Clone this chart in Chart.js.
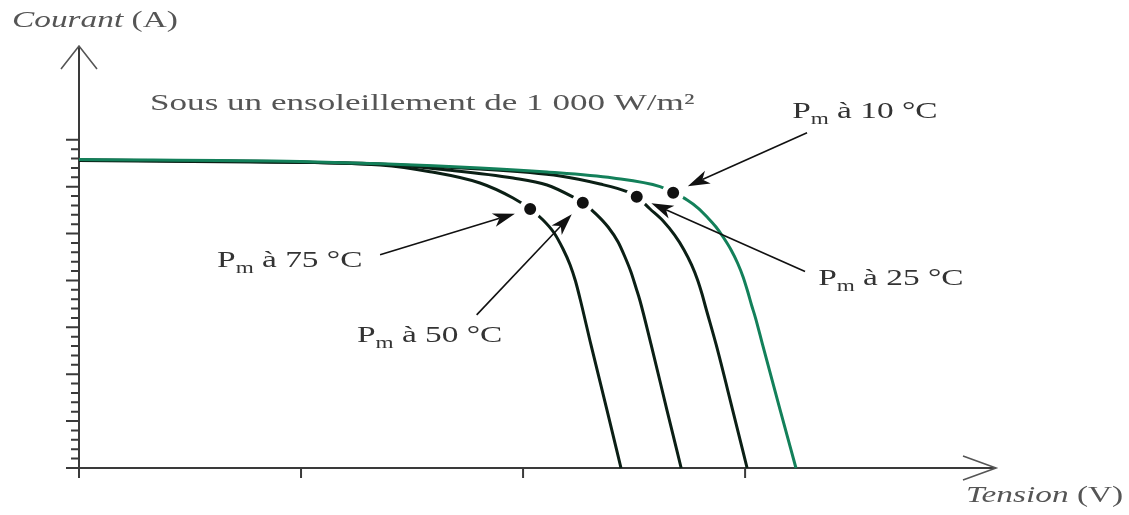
<!DOCTYPE html>
<html>
<head>
<meta charset="utf-8">
<script src="https://cdn.jsdelivr.net/npm/chart.js@4"></script>
<style>
  body { margin: 0; background: #fff; }
  #wrap { width: 1129px; height: 515px; }
</style>
</head>
<body>
<div id="wrap"><canvas id="myChart"></canvas></div>
<script>
// I-V curves of a PV module (V, A)
const temps = ['10 °C', '25 °C', '50 °C', '75 °C'];

const v10 = [0, 9.95, 18.06, 21.08, 24.05, 26.17, 26.76, 27.39, 27.88, 28.29, 28.69, 29.01, 29.37, 29.66, 29.91, 30.11, 30.29, 30.47, 30.79, 31.58, 32.29];
const i10 = [32.90, 32.68, 31.99, 31.56, 30.92, 30.00, 29.36, 28.58, 27.72, 26.76, 25.70, 24.63, 23.25, 21.86, 20.37, 18.87, 17.38, 15.99, 13.12, 6.18, 0];

const v25 = [0, 9.95, 18.06, 21.67, 23.47, 24.68, 25.12, 25.72, 26.31, 26.82, 27.25, 27.59, 27.86, 28.06, 28.22, 28.70, 29.44, 30.09];
const i25 = [32.84, 32.63, 31.88, 31.14, 30.28, 29.46, 28.93, 27.62, 26.34, 24.85, 23.25, 21.65, 20.05, 18.55, 17.17, 13.12, 6.18, 0];

const v50 = [0, 7.70, 13.56, 16.58, 19.55, 21.08, 22.25, 22.69, 23.29, 23.83, 24.28, 24.59, 24.86, 25.09, 25.27, 25.77, 26.48, 27.12];
const i50 = [32.79, 32.63, 32.42, 31.78, 30.92, 30.18, 28.90, 28.29, 27.08, 25.70, 24.10, 22.50, 20.90, 19.19, 17.81, 13.12, 6.18, 0];

const v75 = [0, 7.70, 13.56, 15.81, 18.06, 19.55, 20.32, 20.90, 21.40, 21.80, 22.12, 22.36, 22.57, 23.06, 23.78, 24.41];
const i75 = [32.84, 32.68, 32.31, 31.60, 30.39, 28.79, 27.62, 26.45, 25.06, 23.35, 21.65, 19.94, 18.02, 13.12, 6.18, 0];

// maximum power points (same order as temps)
const mppV = [26.76, 25.12, 22.69, 20.32];
const mppI = [29.36, 28.93, 28.29, 27.62];

// where each label / arrow tail sits, in data units
const labelV = [32.12, 33.29, 12.52, 6.22];
const labelI = [37.35, 19.53, 13.45, 21.45];
const tailV = [32.79, 32.70, 17.91, 13.56];
const tailI = [35.75, 20.95, 16.33, 22.73];

const xTicks = [0, 10, 20, 30];
const yMajorTicks = [0, 5, 10, 15, 20, 25, 30, 35];
const yMinorStep = 1;

const title = 'Sous un ensoleillement de 1 000 W/m²';

const SX = 1.45; // picture is stretched sideways
const serif = '"Liberation Serif", "Times New Roman", serif';

function pts(xs, ys) {
  return xs.map((x, k) => ({ x: x, y: ys[k] }));
}

function drawText(ctx, str, x, y, size, color, style, sx) {
  ctx.save();
  ctx.translate(x, y);
  ctx.scale(sx || SX, 1);
  ctx.font = (style || 'normal') + ' ' + size + 'px ' + serif;
  ctx.fillStyle = color;
  ctx.textBaseline = 'alphabetic';
  ctx.fillText(str, 0, 0);
  const w = ctx.measureText(str).width * (sx || SX);
  ctx.restore();
  return w;
}

function drawPmLabel(ctx, x, y, t) {
  const col = '#333';
  let w = drawText(ctx, 'P', x, y, 23, col);
  w += drawText(ctx, 'm', x + w, y + 6, 16, col);
  drawText(ctx, ' à ' + t, x + w, y, 23, col);
}

const axesPlugin = {
  id: 'axesPlugin',
  beforeDatasetsDraw(chart) {
    const ctx = chart.ctx;
    const xs = chart.scales.x, ys = chart.scales.y;
    const x0 = xs.getPixelForValue(0), y0 = ys.getPixelForValue(0);
    const xEnd = xs.right, yEnd = ys.top;
    ctx.save();
    ctx.strokeStyle = '#3a3a3a';
    ctx.lineWidth = 2;
    // axis lines
    ctx.beginPath();
    ctx.moveTo(x0 - 13, y0);
    ctx.lineTo(xEnd, y0);
    ctx.moveTo(x0, y0 + 10);
    ctx.lineTo(x0, yEnd);
    ctx.stroke();
    // x ticks
    ctx.beginPath();
    xTicks.forEach(v => {
      const p = xs.getPixelForValue(v);
      ctx.moveTo(p, y0);
      ctx.lineTo(p, y0 + 10);
    });
    ctx.stroke();
    // y ticks
    ctx.beginPath();
    for (let v = 0; v <= yMajorTicks[yMajorTicks.length - 1]; v += yMinorStep) {
      const p = ys.getPixelForValue(v);
      const len = yMajorTicks.includes(v) ? 13 : 8;
      ctx.moveTo(x0 - len, p);
      ctx.lineTo(x0, p);
    }
    ctx.stroke();
    // open arrow heads
    ctx.strokeStyle = '#555';
    ctx.lineWidth = 1.6;
    ctx.beginPath();
    ctx.moveTo(x0 - 18, yEnd + 23);
    ctx.lineTo(x0, yEnd);
    ctx.lineTo(x0 + 18, yEnd + 23);
    ctx.moveTo(xEnd - 33, y0 - 12);
    ctx.lineTo(xEnd, y0);
    ctx.lineTo(xEnd - 33, y0 + 12);
    ctx.stroke();
    ctx.restore();
  },
  afterDraw(chart) {
    const ctx = chart.ctx;
    const xs = chart.scales.x, ys = chart.scales.y;
    const area = chart.chartArea;
    // arrows from labels to the Pm dots
    ctx.save();
    ctx.strokeStyle = '#111';
    ctx.fillStyle = '#111';
    ctx.lineWidth = 1.6;
    temps.forEach((t, k) => {
      const dx0 = xs.getPixelForValue(mppV[k]), dy0 = ys.getPixelForValue(mppI[k]);
      const sx = xs.getPixelForValue(tailV[k]), sy = ys.getPixelForValue(tailI[k]);
      const ang = Math.atan2(dy0 - sy, dx0 - sx);
      const tx = dx0 - 16 * Math.cos(ang), ty = dy0 - 16 * Math.sin(ang);
      const L = 22, H = 7;
      const bx = tx - L * Math.cos(ang), by = ty - L * Math.sin(ang);
      ctx.beginPath();
      ctx.moveTo(sx, sy);
      ctx.lineTo(bx + 6 * Math.cos(ang), by + 6 * Math.sin(ang));
      ctx.stroke();
      const nx = -Math.sin(ang), ny = Math.cos(ang);
      ctx.beginPath();
      ctx.moveTo(tx, ty);
      ctx.lineTo(bx + H * nx, by + H * ny);
      ctx.lineTo(bx + 6 * Math.cos(ang), by + 6 * Math.sin(ang));
      ctx.lineTo(bx - H * nx, by - H * ny);
      ctx.closePath();
      ctx.fill();
      drawPmLabel(ctx, xs.getPixelForValue(labelV[k]), ys.getPixelForValue(labelI[k]), t);
    });
    ctx.restore();

    drawText(ctx, title, xs.getPixelForValue(3.2), ys.getPixelForValue(38.2), 23, '#555', 'normal', 1.525);

    // axis titles
    let w = drawText(ctx, 'Courant', area.left - 67, area.top - 19, 23, '#555', 'italic');
    drawText(ctx, ' (A)', area.left - 67 + w, area.top - 19, 23, '#555');
    w = drawText(ctx, 'Tension', area.right - 30, area.bottom + 34, 23, '#555', 'italic');
    drawText(ctx, ' (V)', area.right - 30 + w, area.bottom + 34, 23, '#555');
  }
};

const curveStyle = { fill: false, pointRadius: 0, borderWidth: 3, cubicInterpolationMode: 'monotone', clip: false };

new Chart(document.getElementById('myChart'), {
  type: 'line',
  data: {
    datasets: [
      {
        label: 'Pm',
        type: 'scatter',
        data: pts(mppV, mppI),
        pointRadius: 8.5,
        pointBorderWidth: 5,
        pointBackgroundColor: '#111',
        pointBorderColor: '#fff',
        showLine: false,
        order: 0,
        clip: false,
      },
      Object.assign({ label: temps[0], data: pts(v10, i10), borderColor: '#13805a', order: 1 }, curveStyle),
      Object.assign({ label: temps[1], data: pts(v25, i25), borderColor: '#0b1f15', order: 2 }, curveStyle),
      Object.assign({ label: temps[2], data: pts(v50, i50), borderColor: '#0b1f15', order: 3 }, curveStyle),
      Object.assign({ label: temps[3], data: pts(v75, i75), borderColor: '#0b1f15', order: 4 }, curveStyle),
    ],
  },
  options: {
    responsive: true,
    maintainAspectRatio: false,
    animation: false,
    layout: { padding: { left: 79, right: 133, top: 46, bottom: 47 } },
    plugins: {
      legend: { display: false },
      tooltip: { enabled: false },
    },
    scales: {
      x: { type: 'linear', min: 0, max: 41.3, display: false },
      y: { type: 'linear', min: 0, max: 45, display: false },
    },
  },
  plugins: [axesPlugin],
});
</script>
</body>
</html>
